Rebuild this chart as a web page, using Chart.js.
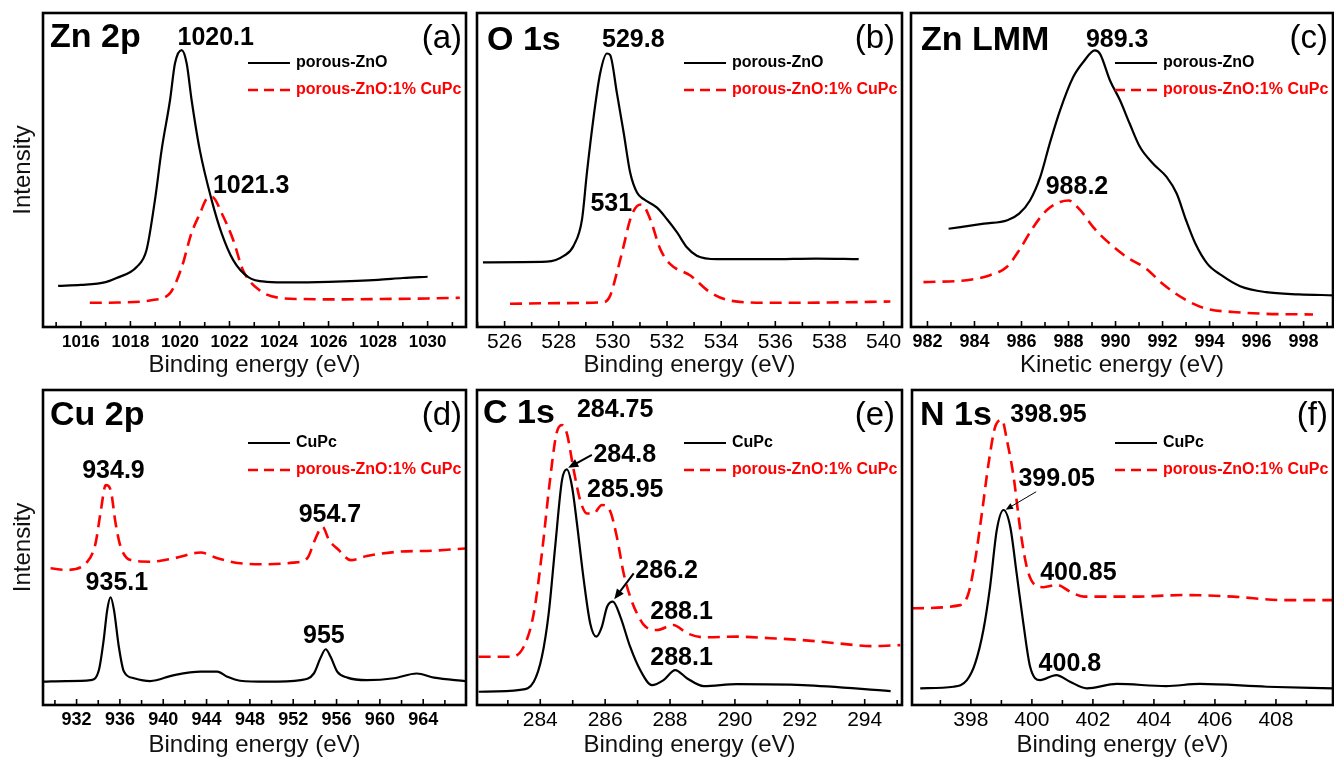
<!DOCTYPE html>
<html><head><meta charset="utf-8">
<script src="https://cdn.jsdelivr.net/npm/chart.js@4.4.1/dist/chart.umd.min.js"></script>
<style>
html,body{margin:0;padding:0;background:#fff;overflow:hidden;width:1334px;height:758px}
.p{position:absolute}
</style></head><body>
<div class="p" style="left:0;top:0;width:470px;height:380px"><canvas id="ca"></canvas></div>
<div class="p" style="left:470px;top:0;width:440px;height:380px"><canvas id="cb"></canvas></div>
<div class="p" style="left:905px;top:0;width:429px;height:380px"><canvas id="cc"></canvas></div>
<div class="p" style="left:0;top:380px;width:470px;height:380px"><canvas id="cd"></canvas></div>
<div class="p" style="left:470px;top:380px;width:440px;height:380px"><canvas id="ce"></canvas></div>
<div class="p" style="left:905px;top:380px;width:429px;height:380px"><canvas id="cf"></canvas></div>
<script>
// ---------- DATA ----------
// (a) Zn 2p
const zn2pE_ZnO = [1015.08,1016,1017,1017.44,1018.25,1018.65,1018.99,1019.26,1019.6,1019.8,1020.07,1020.27,1020.47,1020.8,1021.28,1021.68,1022.15,1022.76,1023.5,1024.5,1026,1028,1029,1030];
const zn2pI_ZnO = [13.1,13.4,14.3,15.6,19.1,24.5,40.4,56.4,72.3,84,88.2,84,72.3,56.4,40.4,29.9,21.3,15.9,14.4,14.2,14.4,15,15.6,16];
const zn2pE_Cu = [1016.36,1017.5,1018.9,1019.6,1020.07,1020.47,1020.8,1021.1,1021.3,1021.7,1022.15,1022.55,1023.2,1024.0,1025,1026.2,1028,1030,1031.3];
const zn2pI_Cu = [7.7,7.8,8.6,10.8,19,30,36,41,41.4,36,27.7,18,11.8,9.3,8.9,8.8,8.9,9.1,9.3];
// (b) O 1s
const o1sE_ZnO = [525.2,527.56,528.2,528.55,528.86,529.04,529.29,529.53,529.78,529.9,530.15,530.4,530.64,530.89,531.14,531.63,532.0,532.37,532.74,533.1,533.85,535.8,537.5,539.08];
const o1sI_ZnO = [20.6,20.8,22.7,25.9,34.3,49.1,67,80.8,87.1,86.6,74.4,61.8,49.1,42.8,40.7,38,34.3,30.1,25.3,22.7,21.6,21.6,21.8,21.6];
const o1sE_Cu = [526.2,528,529.66,529.9,530.15,530.4,530.64,530.89,531.07,531.38,531.75,532.12,532.86,533.6,534.34,535.8,538,540.25];
const o1sI_Cu = [7.4,7.6,7.9,10,17.4,25.9,34.3,38.5,39,34.3,24.8,20,16.4,11,8.4,7.7,7.8,8.1];
// (c) Zn LMM
const lmmE_ZnO = [982.9,984.4,985.4,985.9,986.36,986.8,987.2,987.64,988.2,988.63,989.12,989.34,989.76,990.19,990.6,991.04,991.6,992.17,992.6,993.0,993.4,993.9,994.5,995.3,996.4,997.8,999.25];
const lmmI_ZnO = [31.3,32.9,34,36.1,40.3,47.8,58.4,69,79.6,84.4,88.1,87,78.6,72.2,64.8,57.3,52,47.8,42.5,34,26.5,20.2,16.5,13,11.1,10.4,10.1];
const lmmE_Cu = [981.83,983.67,984.66,985.37,985.94,986.5,987.07,987.64,988,988.5,989.05,989.6,990.47,991.3,992.0,992.9,993.87,995,996.4,998.4];
const lmmI_Cu = [14.3,14.9,16.5,19.1,24.9,31.8,37.2,39.8,40.3,37.2,31.8,27.6,22.3,18.6,13.8,9,5.8,4.8,4.2,4];
// (d) Cu 2p
const cu2pE_CuPc = [928.98,931,933.3,934.06,934.5,934.83,935.14,935.45,935.9,936.37,937.3,938.8,941,943.45,945,945.9,947.1,949.6,952.7,953.9,954.5,955,955.45,956.06,957,958.8,961.3,963.4,965,967.9];
const cu2pI_CuPc = [7.4,7.6,7.9,11.1,20.6,30.2,34.2,30.2,18.5,10.6,8.5,7.6,9.5,10.6,10.6,9,7.7,7.4,7.9,10,14.8,17.7,15.3,10.6,8.7,7.9,8.5,10,8.7,7.6];
const cu2pE_Cu = [929.6,931.1,933,933.75,934.2,934.7,935.14,935.6,936.06,937,938.8,941,943.45,945,947.1,949.6,952,953.3,954,954.7,955.3,956.2,957.3,958.8,961.9,965,967.9];
const cu2pI_Cu = [43.4,42.9,45.5,51.3,60.8,69.8,68.3,57.7,50.3,46,45.5,46.6,48.4,46.6,45,44.7,45.2,46.6,52.4,56.6,52.4,49.2,46,47.3,48.7,49,49.7];
// (e) C 1s
const c1sE_CuPc = [282.1,283.38,283.8,284.05,284.26,284.46,284.67,284.82,284.98,285.13,285.34,285.54,285.73,285.9,286.06,286.24,286.47,286.77,287.08,287.44,287.8,288.16,288.52,289.04,290.06,292.1,294.8];
const c1sI_CuPc = [4.2,4.8,7.4,15.3,29.1,50.3,71.4,74.8,69.3,57.7,39.7,25.9,21.7,24.9,31.2,32.8,28,18.5,11.1,6.3,7.9,11.1,8.5,6,6.6,6.3,4.4];
const c1sE_Cu = [282.1,283.07,283.49,283.8,284.05,284.3,284.5,284.67,284.82,285.03,285.23,285.44,285.64,285.9,286.16,286.36,286.57,286.77,286.98,287.24,287.6,288.1,288.52,289.04,290.06,291.1,292.1,293.15,294.2,295.1];
const c1sI_Cu = [15.3,15.3,18.5,29.1,48.1,71.4,86.2,88.9,86.2,74.6,65,60.8,60.8,63.5,61.4,53.4,41.8,34.4,29.1,24.9,23.8,25.4,22.8,21.5,21.7,21.2,20.6,19.6,18.7,19];
// (f) N 1s
const n1sE_CuPc = [396.34,397.43,397.87,398.14,398.41,398.63,398.85,399.07,399.29,399.5,399.72,399.94,400.27,400.8,401.25,401.8,402.78,404.4,405.5,407.7,409.88];
const n1sI_CuPc = [5.3,5.8,7.9,13.2,23.8,37.6,55.6,61.9,56.6,41.8,25.9,12.2,7.9,9.5,7.4,5.3,6.7,6,6.7,5.8,5.3];
const n1sE_Cu = [396.07,397.65,397.92,398.14,398.36,398.58,398.8,399.02,399.18,399.4,399.62,399.83,400.05,400.38,400.82,401.25,401.7,403.33,404.97,406.6,408.24,409.88];
const n1sI_Cu = [30.7,31.7,35.4,46,60.8,76.7,88.4,90.5,84.1,72.5,55.6,43.9,38.6,37.4,38.1,36,34.4,34.4,34.9,34.4,33.3,33.3];

// peak labels: [text, energy, intensity]
const labelsA = [["1020.1",1019.9,89.8],["1021.3",1021.33,42.7]];
const labelsB = [["529.8",529.6,89.2],["531",529.17,37]];
const labelsC = [["989.3",988.74,89.2],["988.2",987.03,42.5]];
const labelsD = [["934.9",932.52,72.2],["935.1",932.83,36.5],["954.7",952.5,58.2],["955",952.9,19.6]];
const labelsE = [["284.75",285.13,91.5],["284.8",285.64,77.2],["285.95",285.44,66.1],["286.2",286.93,40.2],["288.1",287.39,27.2],["288.1",287.39,12.7]];
const labelsF = [["398.95",399.29,90],["399.05",399.56,69.5],["400.85",400.27,39.7],["400.8",400.22,10.9]];
// arrows: [fromE, fromI, toE, toI]
const arrowsE = [[285.59,79.4,284.86,75.3],[286.88,41.8,286.28,33.6]];
const arrowsF = [[400.14,67.7,399.14,62.0]];

const FF = "'Liberation Sans', Arial, Helvetica, sans-serif";
const zip = (xs, ys) => xs.map((v, i) => ({x: v, y: ys[i]}));

function deco(o) {
  return {
    id: 'deco',
    afterDraw(chart) {
      const {ctx, chartArea: a, scales: {x, y}} = chart;
      ctx.save();
      // inward ticks
      ctx.strokeStyle = '#000'; ctx.lineWidth = 1.6;
      const start = Math.ceil(x.min / o.minor) * o.minor;
      for (let v = start; v <= x.max + 1e-9; v += o.minor) {
        const px = x.getPixelForValue(v);
        const major = Math.abs(v / o.step - Math.round(v / o.step)) < 1e-6;
        ctx.beginPath(); ctx.moveTo(px, a.bottom); ctx.lineTo(px, a.bottom - (major ? 6 : 5)); ctx.stroke();
      }
      // frame
      ctx.lineWidth = 2.6; ctx.strokeStyle = '#000';
      ctx.strokeRect(a.left, a.top, a.right - a.left, a.bottom - a.top);
      // title
      ctx.fillStyle = '#000'; ctx.textBaseline = 'alphabetic';
      ctx.font = 'bold 34px ' + FF; ctx.textAlign = 'left';
      ctx.fillText(o.title, a.left + o.tdx, a.top + o.tdy);
      // letter
      ctx.font = '33px ' + FF; ctx.textAlign = 'right';
      ctx.fillText(o.letter, a.right - o.ldx, a.top + 35);
      // legend
      const l0 = a.right - 218, l1 = a.right - 176, tx = a.right - 170;
      const y1 = a.top + o.ly, y2 = a.top + o.ly + 27;
      ctx.lineWidth = 2; ctx.strokeStyle = '#000'; ctx.setLineDash([]);
      ctx.beginPath(); ctx.moveTo(l0, y1); ctx.lineTo(l1, y1); ctx.stroke();
      ctx.strokeStyle = '#ff0000'; ctx.lineWidth = 2.5; ctx.setLineDash([10, 6]);
      ctx.beginPath(); ctx.moveTo(l0, y2); ctx.lineTo(l1 + 2, y2); ctx.stroke();
      ctx.setLineDash([]);
      ctx.font = 'bold 16px ' + FF; ctx.textAlign = 'left'; ctx.textBaseline = 'middle';
      ctx.fillStyle = '#000'; ctx.fillText(o.leg1, tx, y1);
      ctx.fillStyle = '#ff0000'; ctx.fillText('porous-ZnO:1% CuPc', tx, y2);
      // peak labels
      ctx.fillStyle = '#000'; ctx.textBaseline = 'alphabetic';
      ctx.font = 'bold 25px ' + FF;
      o.labels.forEach(([t, e, i]) => ctx.fillText(t, x.getPixelForValue(e), y.getPixelForValue(i)));
      // arrows
      (o.arrows || []).forEach(([e0, i0, e1, i1]) => {
        const x0 = x.getPixelForValue(e0), y0 = y.getPixelForValue(i0);
        const x1 = x.getPixelForValue(e1), y1b = y.getPixelForValue(i1);
        const ang = Math.atan2(y1b - y0, x1 - x0), hl = o.ahead;
        ctx.strokeStyle = '#000'; ctx.lineWidth = o.aw;
        ctx.beginPath(); ctx.moveTo(x0, y0);
        ctx.lineTo(x1 - Math.cos(ang) * hl * 0.8, y1b - Math.sin(ang) * hl * 0.8); ctx.stroke();
        ctx.beginPath(); ctx.moveTo(x1, y1b);
        ctx.lineTo(x1 - hl * Math.cos(ang - 0.4), y1b - hl * Math.sin(ang - 0.4));
        ctx.lineTo(x1 - hl * Math.cos(ang + 0.4), y1b - hl * Math.sin(ang + 0.4));
        ctx.closePath(); ctx.fill();
      });
      // y label
      if (o.ylabel) {
        ctx.translate(23, (a.top + a.bottom) / 2); ctx.rotate(-Math.PI / 2);
        ctx.font = '24px ' + FF; ctx.textAlign = 'center'; ctx.textBaseline = 'middle';
        ctx.fillStyle = '#111'; ctx.fillText('Intensity', 0, 0);
      }
      ctx.restore();
    }
  };
}

function panel(id, o) {
  new Chart(document.getElementById(id), {
    type: 'line',
    data: {datasets: [
      {data: zip(o.bx, o.by), borderColor: '#000', borderWidth: 2.2, pointRadius: 0, fill: false, cubicInterpolationMode: 'monotone'},
      {data: zip(o.rx, o.ry), borderColor: '#ff0000', borderWidth: 2.6, borderDash: [12, 7], pointRadius: 0, fill: false, cubicInterpolationMode: 'monotone'}
    ]},
    options: {
      responsive: true, maintainAspectRatio: false, animation: false,
      layout: {padding: {left: o.pl, top: o.pt, right: o.pr, bottom: 0}},
      plugins: {legend: {display: false}, tooltip: {enabled: false}},
      scales: {
        x: {
          type: 'linear', min: o.xmin, max: o.xmax,
          ticks: {stepSize: o.step, includeBounds: false, autoSkip: false, maxRotation: 0, padding: o.tp,
                  color: '#000', font: {family: FF, size: o.ts, weight: o.tw}, callback: v => String(v)},
          grid: {display: false, drawTicks: false}, border: {display: false},
          title: {display: true, text: o.xtitle, color: '#111', font: {family: FF, size: 24}, padding: {top: 0, bottom: 0}},
          afterFit(s) { s.height = o.xh; }
        },
        y: {display: false, min: 0, max: 100}
      }
    },
    plugins: [deco(o)]
  });
}

const BE = 'Binding energy (eV)';
panel('ca', {bx: zn2pE_ZnO, by: zn2pI_ZnO, rx: zn2pE_Cu, ry: zn2pI_Cu, xmin: 1014.47, xmax: 1031.55, step: 2, minor: 1,
  ts: 17, tw: 'bold', tp: 5,
  pl: 43, pt: 13, pr: 4, xh: 53, xtitle: BE, title: 'Zn 2p', tdx: 7, tdy: 34, letter: '(a)', ldx: 4, ly: 50,
  leg1: 'porous-ZnO', labels: labelsA, ylabel: true});
panel('cb', {bx: o1sE_ZnO, by: o1sI_ZnO, rx: o1sE_Cu, ry: o1sI_Cu, xmin: 524.98, xmax: 540.68, step: 2, minor: 1,
  ts: 21, tw: 'normal', tp: 3,
  pl: 7, pt: 13, pr: 8, xh: 53, xtitle: BE, title: 'O 1s', tdx: 10, tdy: 37, letter: '(b)', ldx: 7, ly: 50,
  leg1: 'porous-ZnO', labels: labelsB});
panel('cc', {bx: lmmE_ZnO, by: lmmI_ZnO, rx: lmmE_Cu, ry: lmmI_Cu, xmin: 981.3, xmax: 999.25, step: 2, minor: 1,
  ts: 18, tw: 'bold', tp: 4,
  pl: 6, pt: 13, pr: 1, xh: 53, xtitle: 'Kinetic energy (eV)', title: 'Zn LMM', tdx: 10, tdy: 37, letter: '(c)', ldx: 5, ly: 50,
  leg1: 'porous-ZnO', labels: labelsC});
panel('cd', {bx: cu2pE_CuPc, by: cu2pI_CuPc, rx: cu2pE_Cu, ry: cu2pI_Cu, xmin: 928.9, xmax: 967.95, step: 4, minor: 2,
  ts: 18, tw: 'bold', tp: 4,
  pl: 43, pt: 10, pr: 4, xh: 55, xtitle: BE, title: 'Cu 2p', tdx: 7, tdy: 35, letter: '(d)', ldx: 4, ly: 53,
  leg1: 'CuPc', labels: labelsD, ylabel: true});
panel('ce', {bx: c1sE_CuPc, by: c1sI_CuPc, rx: c1sE_Cu, ry: c1sI_Cu, xmin: 282.05, xmax: 295.15, step: 2, minor: 1,
  ts: 21, tw: 'normal', tp: 3,
  pl: 7, pt: 10, pr: 8, xh: 55, xtitle: BE, title: 'C 1s', tdx: 6, tdy: 33, letter: '(e)', ldx: 7, ly: 53,
  leg1: 'CuPc', labels: labelsE, arrows: arrowsE, aw: 2, ahead: 11});
panel('cf', {bx: n1sE_CuPc, by: n1sI_CuPc, rx: n1sE_Cu, ry: n1sI_Cu, xmin: 396.07, xmax: 409.87, step: 2, minor: 1,
  ts: 21, tw: 'normal', tp: 3,
  pl: 7, pt: 10, pr: 1, xh: 55, xtitle: BE, title: 'N 1s', tdx: 8, tdy: 35, letter: '(f)', ldx: 5, ly: 53,
  leg1: 'CuPc', labels: labelsF, arrows: arrowsF, aw: 1, ahead: 8});
</script>
</body></html>
